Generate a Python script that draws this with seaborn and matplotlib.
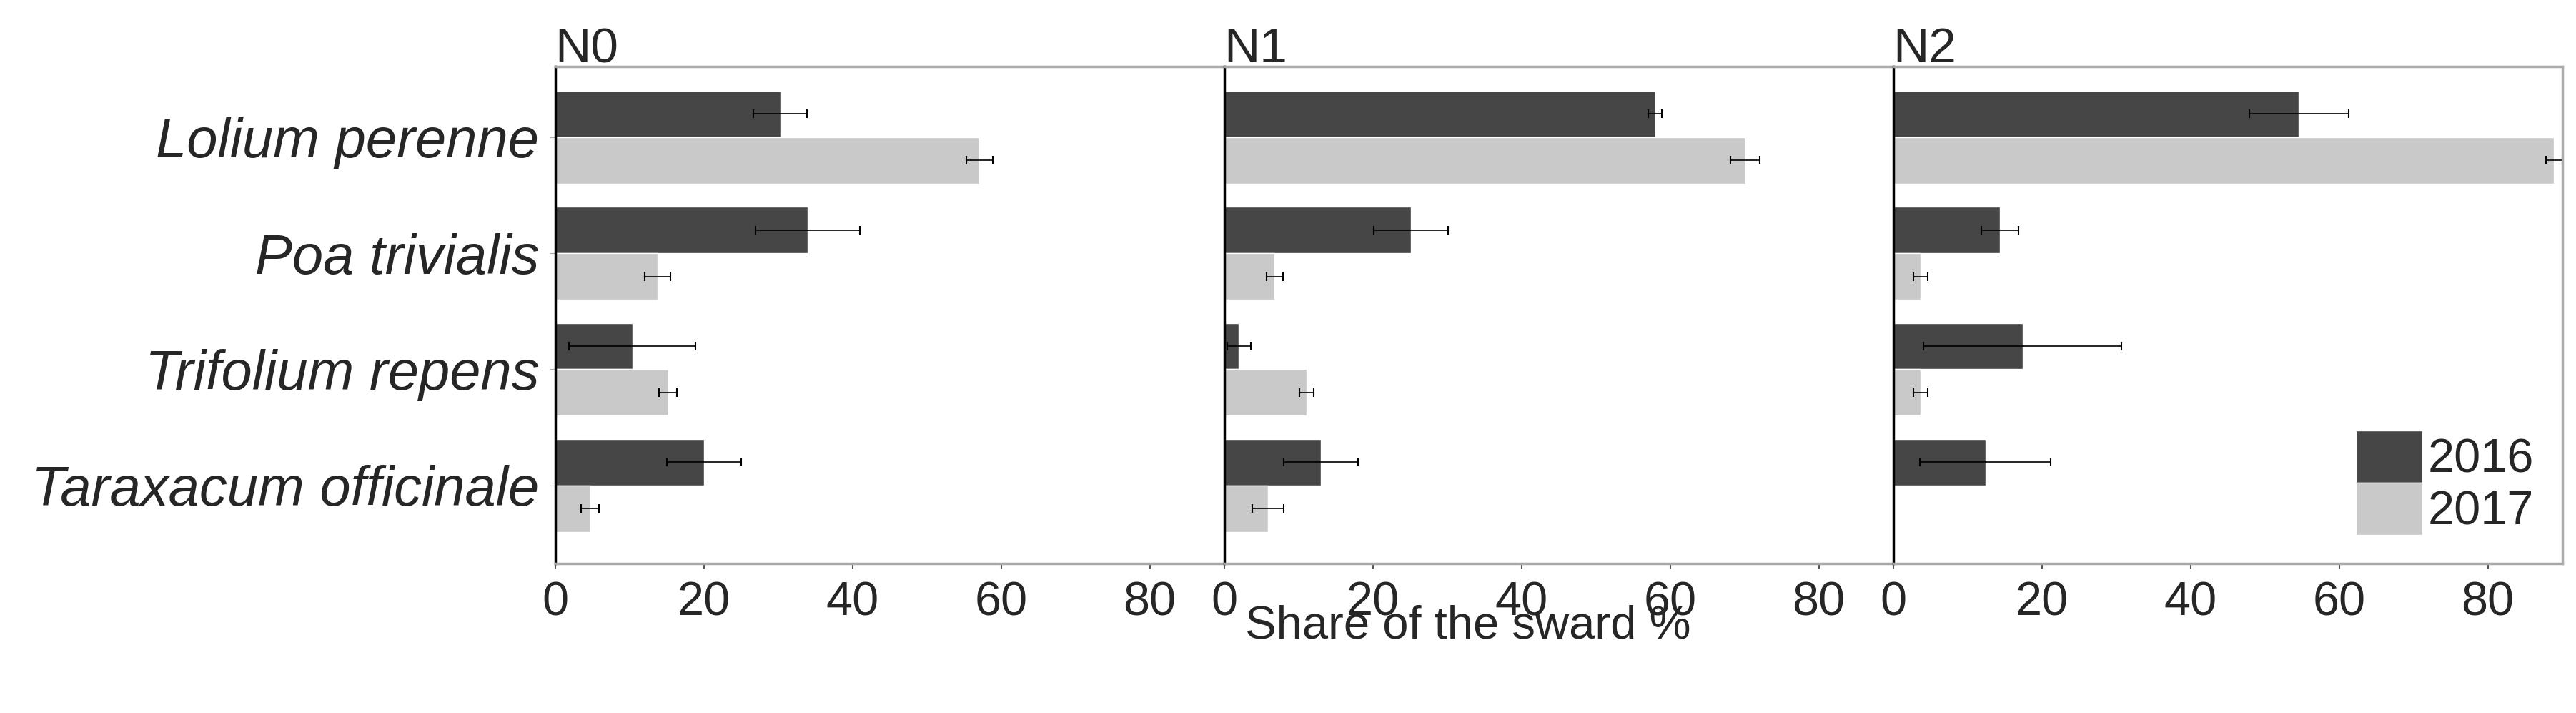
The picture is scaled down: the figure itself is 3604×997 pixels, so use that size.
import pandas as pd
import numpy as np
import seaborn as sns
import matplotlib.pyplot as plt

species = ['Lolium perenne', 'Poa trivialis', 'Trifolium repens', 'Taraxacum officinale']
years = ['2016', '2017']
panels = ['N0', 'N1', 'N2']

# mean share per panel, per year, per species
n0_2016 = [30.3, 34.0, 10.4, 20.0]
n0_2017 = [57.1, 13.8, 15.2, 4.7]
n1_2016 = [58.0, 25.1, 2.0, 13.0]
n1_2017 = [70.1, 6.8, 11.1, 5.9]
n2_2016 = [54.6, 14.4, 17.4, 12.4]
n2_2017 = [88.9, 3.7, 3.7, 0.0]

# error half-widths
n0_2016_err = [3.6, 7.0, 8.5, 5.0]
n0_2017_err = [1.8, 1.7, 1.2, 1.2]
n1_2016_err = [0.9, 5.0, 1.6, 5.0]
n1_2017_err = [2.0, 1.1, 1.0, 2.1]
n2_2016_err = [6.7, 2.5, 13.3, 8.8]
n2_2017_err = [1.1, 1.0, 1.0, 0.0]

vals = {'N0': (n0_2016, n0_2017), 'N1': (n1_2016, n1_2017), 'N2': (n2_2016, n2_2017)}
errs = {'N0': (n0_2016_err, n0_2017_err), 'N1': (n1_2016_err, n1_2017_err),
        'N2': (n2_2016_err, n2_2017_err)}

sns.set_style('white')
plt.rcParams['font.family'] = ['Liberation Sans', 'DejaVu Sans']

colors = {'2016': '#464646', '2017': '#c9c9c9'}

fig = plt.figure(figsize=(36.04, 9.97), dpi=100)
left0, w = 0.2155, 0.2597
bottom, h = 0.21, 0.697

for i, p in enumerate(panels):
    ax = fig.add_axes([left0 + i * w, bottom, w, h])
    rows = []
    for y, v in zip(years, vals[p]):
        for s, val in zip(species, v):
            rows.append({'species': s, 'year': y, 'share': val})
    df = pd.DataFrame(rows)
    sns.barplot(data=df, y='species', x='share', hue='year', palette=colors,
                order=species, hue_order=years, errorbar=None, width=0.8,
                ax=ax, legend=(i == 2))
    for k, y in enumerate(years):
        yy = np.arange(len(species)) + (k - 0.5) * 0.4
        ax.errorbar(vals[p][k], yy, xerr=errs[p][k], fmt='none', ecolor='black',
                    elinewidth=1.2, capsize=4, capthick=1.5)
    ax.set_xlim(0, 90)
    ax.set_ylim(3.67, -0.61)
    ax.set_xticks([0, 20, 40, 60, 80])
    ax.tick_params(axis='x', labelsize=48, length=6, width=1.5, color='#555555',
                   bottom=True, pad=12)
    ax.set_xlabel('')
    ax.set_ylabel('')
    ax.set_title(p, loc='left', fontsize=50, pad=4)
    for sp in ['top', 'right', 'bottom']:
        ax.spines[sp].set_color('#aaaaaa')
        ax.spines[sp].set_linewidth(2.5)
    ax.spines['left'].set_color('black')
    ax.spines['left'].set_linewidth(2.5)
    if i < 2:
        ax.spines['right'].set_visible(False)
    if i == 0:
        ax.set_yticks(range(len(species)))
        ax.set_yticklabels(species, fontsize=56, style='italic')
        ax.tick_params(axis='y', left=True, length=6, color='#aaaaaa', pad=10)
    else:
        ax.set_yticks([])
    if i == 2:
        ax.legend(loc='lower right', frameon=False, fontsize=48, handlelength=1.4,
                  handleheight=1.3, handletextpad=0.1, labelspacing=0.0,
                  borderaxespad=0.2)

fig.text(0.57, 0.122, 'Share of the sward %', fontsize=47, ha='center', va='center')
fig.savefig('out.png', dpi=100)
